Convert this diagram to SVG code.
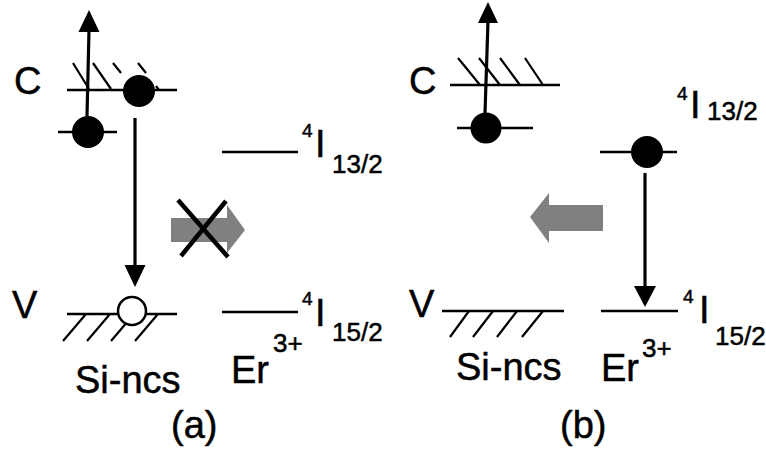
<svg xmlns="http://www.w3.org/2000/svg" width="766" height="453" viewBox="0 0 766 453">
<style>
.t{font-family:"Liberation Sans",Arial,sans-serif;fill:#000;stroke:#000;stroke-width:0.5}
.big{font-size:38px}
.sub{font-size:26px}
.sup{font-size:19px}
.lv{stroke:#000;stroke-width:2.4;fill:none}
.h{stroke:#000;stroke-width:2.2;fill:none}
.ar{stroke:#000;stroke-width:3.2;fill:none}
.e{fill:#000}
.g{fill:#808080}
</style>
<rect width="766" height="453" fill="#fff"/>
<g id="panel-a">
  <g id="a-conduction">
    <line class="lv" x1="67" y1="90" x2="177" y2="90"/>
    <line class="h" x1="73" y1="63" x2="89" y2="89"/>
    <line class="h" x1="93" y1="63" x2="111" y2="89"/>
    <line class="h" x1="113" y1="63" x2="121" y2="73"/>
    <line class="h" x1="138" y1="63" x2="146" y2="73"/>
    <line class="h" x1="156" y1="86" x2="159" y2="90"/>
    <text class="t big" x="14" y="94">C</text>
  </g>
  <g id="a-electron-c"><circle class="e" cx="139" cy="91" r="16"/></g>
  <g id="a-defect">
    <line class="lv" x1="58" y1="132" x2="117" y2="132"/>
    <circle class="e" cx="88" cy="132" r="16"/>
  </g>
  <g id="a-valence">
    <line class="lv" x1="67" y1="314" x2="177" y2="314"/>
    <line class="h" x1="86" y1="314" x2="63" y2="341"/>
    <line class="h" x1="110" y1="314" x2="87" y2="341"/>
    <line class="h" x1="134" y1="314" x2="111" y2="341"/>
    <line class="h" x1="158" y1="314" x2="135" y2="341"/>
    <circle cx="132" cy="311" r="14" fill="#fff" stroke="#000" stroke-width="2.5"/>
    <text class="t big" x="12" y="318">V</text>
  </g>
  <g id="a-er-413">
    <line class="lv" x1="222" y1="152" x2="298" y2="152"/>
    <text class="t sup" x="302" y="137">4</text>
    <text class="t big" x="315" y="157">I</text>
    <text class="t sub" x="332" y="173">13/2</text>
  </g>
  <g id="a-er-415">
    <line class="lv" x1="222" y1="312" x2="298" y2="312"/>
    <text class="t sup" x="302" y="305">4</text>
    <text class="t big" x="315" y="326">I</text>
    <text class="t sub" x="332" y="341">15/2</text>
  </g>
  <g id="a-labels">
    <text class="t big" x="75" y="393">Si-ncs</text>
    <text class="t big" x="231" y="383">Er</text>
    <text class="t sub" x="273" y="352">3+</text>
    <text class="t big" x="171" y="438">(a)</text>
  </g>
</g>
<g id="panel-b">
  <g id="b-conduction">
    <line class="lv" x1="450" y1="85" x2="560" y2="85"/>
    <line class="h" x1="458" y1="58" x2="480" y2="85"/>
    <line class="h" x1="479" y1="58" x2="500" y2="85"/>
    <line class="h" x1="500" y1="58" x2="520" y2="85"/>
    <line class="h" x1="525" y1="58" x2="543" y2="85"/>
    <text class="t big" x="409" y="94">C</text>
  </g>
  <g id="b-defect">
    <line class="lv" x1="457" y1="128" x2="533" y2="128"/>
    <circle class="e" cx="486" cy="128" r="15.5"/>
  </g>
  <g id="b-valence">
    <line class="lv" x1="442" y1="311" x2="564" y2="311"/>
    <line class="h" x1="469" y1="311" x2="450" y2="337"/>
    <line class="h" x1="493" y1="311" x2="473" y2="337"/>
    <line class="h" x1="517" y1="311" x2="497" y2="337"/>
    <line class="h" x1="543" y1="311" x2="522" y2="337"/>
    <text class="t big" x="409" y="317">V</text>
  </g>
  <g id="b-er-413">
    <line class="lv" x1="600" y1="152" x2="677" y2="152"/>
    <circle class="e" cx="647" cy="152" r="16"/>
    <text class="t sup" x="677" y="100">4</text>
    <text class="t big" x="690" y="118">I</text>
    <text class="t sub" x="707" y="120">13/2</text>
  </g>
  <g id="b-er-415">
    <line class="lv" x1="601" y1="311" x2="678" y2="311"/>
    <text class="t sup" x="683" y="303">4</text>
    <text class="t big" x="699" y="323">I</text>
    <text class="t sub" x="715" y="345">15/2</text>
  </g>
  <g id="b-labels">
    <text class="t big" x="456" y="380">Si-ncs</text>
    <text class="t big" x="601" y="381">Er</text>
    <text class="t sub" x="642" y="357">3+</text>
    <text class="t big" x="560" y="438">(b)</text>
  </g>
</g>
<g id="connectors">
  <line class="ar" x1="87" y1="116" x2="89" y2="30"/>
  <polygon class="e" points="89,10 78.5,32 99.5,32"/>
  <line class="ar" x1="135" y1="118" x2="135" y2="267"/>
  <polygon class="e" points="135,287 124.5,265 145.5,265"/>
  <polygon class="g" points="171,218 227,218 227,205 245,230 227,253 227,242 171,242"/>
  <line stroke="#000" stroke-width="4.5" x1="178" y1="200" x2="228" y2="257"/>
  <line stroke="#000" stroke-width="4.5" x1="226" y1="201" x2="181" y2="256"/>
  <line class="ar" x1="485" y1="113" x2="488" y2="21"/>
  <polygon class="e" points="488,2 478,23 498,23"/>
  <line class="ar" x1="645" y1="173" x2="645" y2="288"/>
  <polygon class="e" points="645,307 634,286 656,286"/>
  <polygon class="g" points="603,205 549,205 549,193 530,217 549,243 549,231 603,231"/>
</g>
</svg>
